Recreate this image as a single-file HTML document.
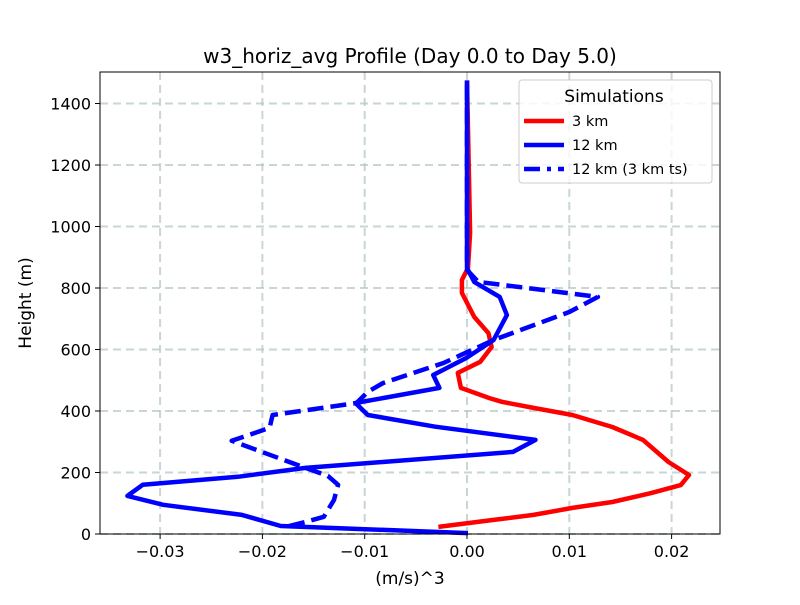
<!DOCTYPE html>
<html><head><meta charset="utf-8"><style>
body{margin:0;background:#fff;font-family:"Liberation Sans","DejaVu Sans",sans-serif}
svg text{font-family:"DejaVu Sans","Liberation Sans",sans-serif}
</style></head><body>
<svg id="chart" width="800" height="600" xmlns="http://www.w3.org/2000/svg">
<rect width="800" height="600" fill="#fff"/>
<g id="grid"></g>
<g id="lines"></g>
<rect x="100" y="72" width="620" height="462" fill="none" stroke="#000" stroke-width="1"/>
<g id="ticks"></g>
<text x="410" y="63" font-size="20" text-anchor="middle">w3_horiz_avg Profile (Day 0.0 to Day 5.0)</text>
<text x="410" y="584" font-size="17" text-anchor="middle">(m/s)^3</text>
<text x="31" y="303" font-size="17" text-anchor="middle" transform="rotate(-90 31 303)">Height (m)</text>
<g>
<rect x="519" y="80" width="193" height="103" rx="3" fill="#fff" fill-opacity="0.8" stroke="#ccc"/>
<text x="614" y="102" font-size="17" text-anchor="middle">Simulations</text>
<line x1="524" y1="121" x2="564" y2="121" stroke="#ff0000" stroke-width="4.5"/>
<text x="572" y="126" font-size="14.5">3 km</text>
<line x1="524" y1="145" x2="564" y2="145" stroke="#0000ff" stroke-width="4.5"/>
<text x="572" y="150" font-size="14.5">12 km</text>
<line x1="524" y1="169" x2="564" y2="169" stroke="#0000ff" stroke-width="4.5" stroke-dasharray="16,7,4,7"/>
<text x="572" y="174" font-size="14.5">12 km (3 km ts)</text>
</g>
</svg>
<script>
const xTicks=[-0.03,-0.02,-0.01,0.0,0.01,0.02];
const xTickLabels=["−0.03","−0.02","−0.01","0.00","0.01","0.02"];
const yTicks=[0,200,400,600,800,1000,1200,1400];
const h3=[23,46,62,85,104,133,159,192,234,306,348,387,410,430,442,475,524,560,608,653,706,784,826,865,980,1475];
const v3=[-0.0028,0.0026,0.0065,0.0103,0.0142,0.018,0.0209,0.0217,0.0197,0.0172,0.0142,0.0103,0.0065,0.0034,0.0022,-0.0006,-0.0009,0.0013,0.0024,0.0021,0.0007,-0.0005,-0.0005,0.0001,0.0003,0.0];
const h12=[3,26,62,95,124,160,186,215,267,306,349,387,426,475,517,572,631,712,771,820,865,1475];
const v12=[0.0001,-0.0182,-0.022,-0.0297,-0.0332,-0.0317,-0.0224,-0.0158,0.0045,0.0067,-0.0031,-0.0097,-0.0109,-0.0027,-0.0033,-0.0001,0.0026,0.0039,0.0032,0.0007,0.0,0.0];
const h12ts=[26,39,56,111,160,189,215,303,345,387,426,462,491,556,631,722,771,820,859,1475];
const v12ts=[-0.0174,-0.0158,-0.014,-0.013,-0.0126,-0.0136,-0.0158,-0.023,-0.0193,-0.019,-0.0108,-0.0097,-0.0082,-0.0023,0.0026,0.01,0.0128,0.0011,0.0,0.0];

const X=v=>467+v*10230;
const Y=h=>534-h*0.3075;
const NS="http://www.w3.org/2000/svg";
function mk(tag,attrs,parent){const e=document.createElementNS(NS,tag);for(const k in attrs)e.setAttribute(k,attrs[k]);parent.appendChild(e);return e;}
const grid=document.getElementById('grid'),ticks=document.getElementById('ticks'),lines=document.getElementById('lines');
xTicks.forEach((t,i)=>{
  const gl=mk('line',{x1:X(t),x2:X(t),y1:72,y2:534,stroke:'#b0c4c4',"stroke-width":2,"stroke-dasharray":"8,5","stroke-opacity":0.7},grid);
  
  
  const tk=mk('line',{x1:X(t),x2:X(t),y1:534,y2:539,stroke:'#000'},ticks);
  
  
  const tl=mk('text',{x:X(t),y:557,"font-size":16,"text-anchor":"middle"},ticks);
  tl.textContent=xTickLabels[i];
  
  
});
yTicks.forEach(t=>{
  const gl=mk('line',{x1:100,x2:720,y1:Y(t),y2:Y(t),stroke:'#b0c4c4',"stroke-width":2,"stroke-dasharray":"8,5","stroke-opacity":0.7},grid);
  
  
  const tk=mk('line',{x1:95,x2:100,y1:Y(t),y2:Y(t),stroke:'#000'},ticks);
  
  
  const tl=mk('text',{x:91,y:Y(t)+6,"font-size":16,"text-anchor":"end"},ticks);
  tl.textContent=String(t);
  
  
});
function series(vals,hs,color,dash,name){
  const pts=vals.map((v,i)=>X(v).toFixed(1)+','+Y(hs[i]).toFixed(1)).join(' ');
  const a={points:pts,fill:'none',stroke:color,"stroke-width":4.5,"stroke-linejoin":"round"};
  if(dash)a["stroke-dasharray"]=dash;
  const p=mk('polyline',a,lines);
  
  
}
series(v3,h3,'#ff0000',null,'line-3km');
series(v12,h12,'#0000ff',null,'line-12km');
series(v12ts,h12ts,'#0000ff','16,7','line-12km-3kmts');
</script>
</body></html>
